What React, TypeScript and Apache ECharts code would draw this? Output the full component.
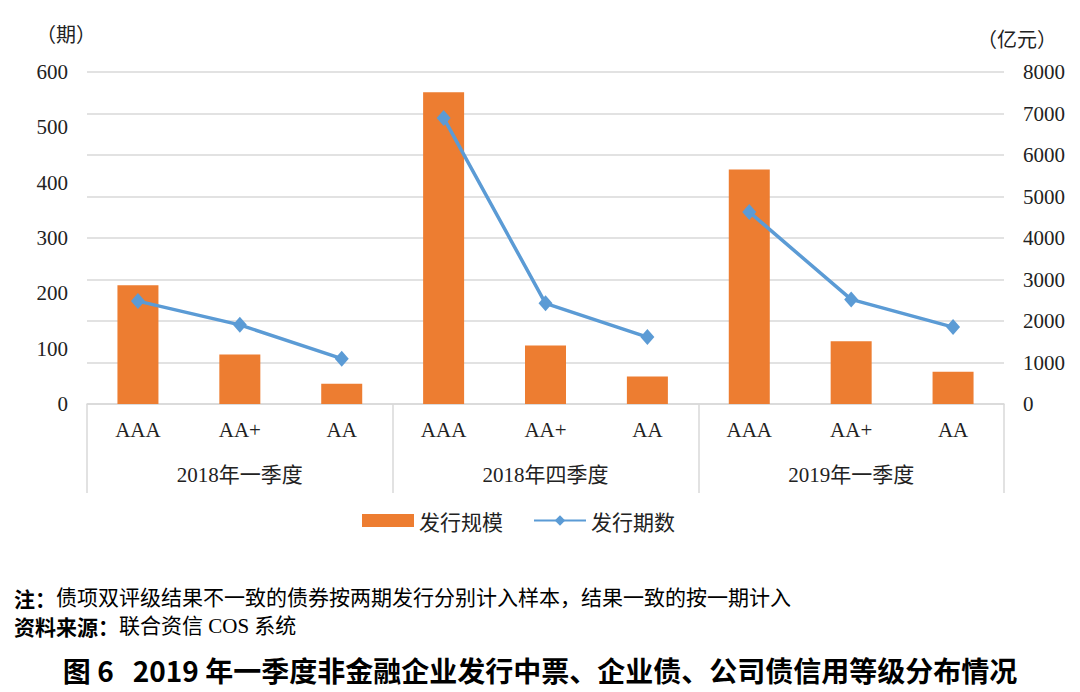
import React, { useEffect, useRef } from "react";
import * as echarts from "echarts";

const categories = ["AAA", "AA+", "AA", "AAA", "AA+", "AA", "AAA", "AA+", "AA"];
const groups = ["2018年一季度", "2018年四季度", "2019年一季度"];
const issueScale = [2860, 1190, 490, 7510, 1410, 660, 5650, 1510, 780]; // 亿元
const issueCount = [186, 143, 82, 517, 182, 121, 347, 189, 139]; // 期
const seriesNames = ["发行规模", "发行期数"];
const leftAxisName = "（期）";
const rightAxisName = "（亿元）";
const noteLabel = "注：";
const noteText = "债项双评级结果不一致的债券按两期发行分别计入样本，结果一致的按一期计入";
const sourceLabel = "资料来源：";
const sourceText = "联合资信 COS 系统";
const titleText = "图 6   2019 年一季度非金融企业发行中票、企业债、公司债信用等级分布情况";

const SERIF = "'Liberation Serif', 'Noto Sans CJK SC', serif";
const SANS = "'Noto Sans CJK SC', 'Noto Sans', sans-serif";
const LINE_COLOR = "#5B9BD5";

export default function App() {
  const ref = useRef<HTMLDivElement>(null);
  useEffect(() => {
    if (!ref.current) return;
    const chart = echarts.init(ref.current, undefined, { renderer: "svg" });
    const perGroup = categories.length / groups.length;
    const lineSeries = groups.map((_, g) => ({
      name: seriesNames[1],
      type: "line",
      xAxisIndex: 0,
      yAxisIndex: 0,
      data: issueCount.map((v, i) => (Math.floor(i / perGroup) === g ? v : "-")),
      symbol: "diamond",
      symbolSize: [14, 16],
      lineStyle: { color: LINE_COLOR, width: 3.5 },
      itemStyle: { color: LINE_COLOR },
      connectNulls: false,
    }));
    chart.setOption({
      animation: false,
      backgroundColor: "#ffffff",
      grid: { left: 87, right: 76, top: 72, bottom: 288, containLabel: false },
      legend: {
        left: 357,
        top: 505,
        itemWidth: 52,
        itemHeight: 13,
        itemGap: 30,
        textStyle: { fontSize: 21, fontFamily: SANS, color: "#222" },
        data: [{ name: seriesNames[0], icon: "rect" }, { name: seriesNames[1] }],
      },
      xAxis: [
        {
          type: "category",
          position: "bottom",
          data: categories,
          axisLine: { show: true, lineStyle: { color: "#D9D9D9", width: 1.5 } },
          axisTick: { show: false },
          axisLabel: { interval: 0, margin: 15, fontSize: 21, fontFamily: SERIF, color: "#222" },
        },
        {
          type: "category",
          position: "bottom",
          data: groups,
          axisLine: { show: false },
          axisTick: { show: true, length: 89, lineStyle: { color: "#D9D9D9", width: 1.5 } },
          axisLabel: { interval: 0, margin: 60, fontSize: 21, fontFamily: SERIF, color: "#222" },
        },
      ],
      yAxis: [
        {
          type: "value",
          position: "left",
          min: 0,
          max: 600,
          interval: 100,
          axisLine: { show: false },
          axisTick: { show: false },
          splitLine: { show: false },
          axisLabel: { margin: 19, fontSize: 21, fontFamily: SERIF, color: "#222", formatter: (v: number) => String(v) },
        },
        {
          type: "value",
          position: "right",
          min: 0,
          max: 8000,
          interval: 1000,
          axisLine: { show: false },
          axisTick: { show: false },
          splitLine: { show: true, lineStyle: { color: "#D9D9D9", width: 1.5 } },
          axisLabel: { margin: 19, fontSize: 21, fontFamily: SERIF, color: "#222", formatter: (v: number) => String(v) },
        },
      ],
      series: [
        {
          name: seriesNames[0],
          type: "bar",
          xAxisIndex: 0,
          yAxisIndex: 1,
          data: issueScale,
          barWidth: 41,
          itemStyle: { color: "#ED7D31" },
        },
        ...lineSeries,
      ],
      graphic: [
        {
          type: "text",
          x: 66,
          y: 33,
          style: { text: leftAxisName, fontSize: 20, fontFamily: SANS, fill: "#222", align: "center", verticalAlign: "middle" },
        },
        {
          type: "text",
          x: 1017,
          y: 38,
          style: { text: rightAxisName, fontSize: 20, fontFamily: SANS, fill: "#222", align: "center", verticalAlign: "middle" },
        },
        {
          type: "text",
          x: 14,
          y: 598,
          style: {
            text: "{b|" + noteLabel + "}{n|" + noteText + "}",
            verticalAlign: "middle",
            rich: {
              b: { fontSize: 21, lineHeight: 24, fontWeight: "bold", fontFamily: SANS, fill: "#000", color: "#000" },
              n: { fontSize: 21, lineHeight: 24, fontFamily: SERIF, fill: "#000", color: "#000" },
            },
          },
        },
        {
          type: "text",
          x: 14,
          y: 626,
          style: {
            text: "{b|" + sourceLabel + "}{n|" + sourceText + "}",
            verticalAlign: "middle",
            rich: {
              b: { fontSize: 21, lineHeight: 24, fontWeight: "bold", fontFamily: SANS, fill: "#000", color: "#000" },
              n: { fontSize: 21, lineHeight: 24, fontFamily: SERIF, fill: "#000", color: "#000" },
            },
          },
        },
        {
          type: "text",
          x: 540,
          y: 670,
          style: {
            text: titleText,
            fontSize: 28,
            fontWeight: "bold",
            fontFamily: SANS,
            fill: "#000",
            align: "center",
            verticalAlign: "middle",
          },
        },
      ],
    });
    return () => chart.dispose();
  }, []);
  return (
    <div
      ref={ref}
      style={{ position: "absolute", left: 0, top: 0, width: 1080, height: 692, background: "#fff" }}
    />
  );
}
